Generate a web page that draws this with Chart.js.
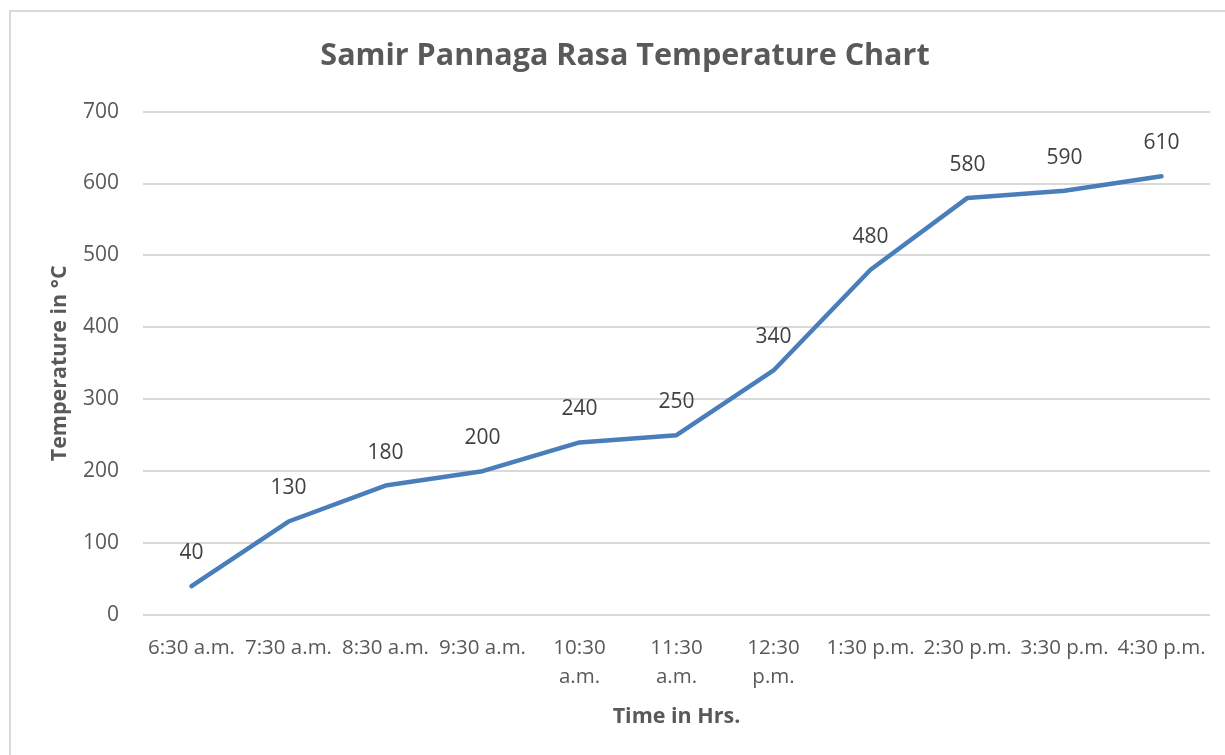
<!DOCTYPE html>
<html>
<head>
<meta charset="utf-8">
<script src="https://cdn.jsdelivr.net/npm/chart.js@4"></script>
<style>
  body { margin: 0; background: #fff; overflow: hidden; }
  #frame { position: absolute; left: 9px; top: 10px; width: 1300px; height: 800px;
           border-left: 2px solid #d9d9d9; border-top: 2px solid #d9d9d9; }
  #wrap { position: absolute; left: 0; top: 0; width: 1225px; height: 755px; }
</style>
</head>
<body>
<div id="frame"></div>
<div id="wrap"><canvas id="myChartLine"></canvas></div>
<script>
var timeLabels = ['6:30 a.m.', '7:30 a.m.', '8:30 a.m.', '9:30 a.m.', ['10:30', 'a.m.'],
  ['11:30', 'a.m.'], ['12:30', 'p.m.'], '1:30 p.m.', '2:30 p.m.', '3:30 p.m.', '4:30 p.m.'];
var temperature = [40, 130, 180, 200, 240, 250, 340, 480, 580, 590, 610];

var textColor = '#595959';
var fontName = '"Open Sans", sans-serif';

// value labels above each point
var pointLabels = {
  id: 'pointLabels',
  afterDatasetsDraw: function(chart) {
    var ctx = chart.ctx;
    var meta = chart.getDatasetMeta(0);
    ctx.save();
    ctx.fillStyle = '#404040';
    ctx.font = '21px ' + fontName;
    ctx.textAlign = 'center';
    ctx.textBaseline = 'middle';
    meta.data.forEach(function(pt, i) {
      ctx.fillText(temperature[i], pt.x, pt.y - 33);
    });
    ctx.restore();
  }
};

function chartPrint(targetId) {
  var ctx = document.getElementById(targetId);
  new Chart(ctx, {
    type: 'line',
    data: {
      labels: timeLabels,
      datasets: [{
        label: 'Temperature',
        data: temperature,
        borderColor: '#4a7ebb',
        borderWidth: 4.5,
        pointRadius: 0,
        tension: 0,
        borderCapStyle: 'round',
        borderJoinStyle: 'round'
      }]
    },
    options: {
      responsive: true,
      maintainAspectRatio: false,
      animation: false,
      layout: { padding: { left: 40, right: 15, top: 0, bottom: 0 } },
      plugins: {
        legend: { display: false },
        tooltip: { enabled: false },
        title: {
          display: true,
          text: 'Samir Pannaga Rasa Temperature Chart',
          color: textColor,
          font: { family: fontName, size: 30.5, weight: 'bold' },
          padding: { top: 38, bottom: 37 }
        }
      },
      scales: {
        x: {
          offset: true,
          grid: { display: false },
          border: { display: false },
          ticks: {
            color: textColor,
            font: { family: fontName, size: 20.5, lineHeight: 1.45 },
            maxRotation: 0,
            autoSkip: false,
            padding: 10
          },
          title: {
            display: true,
            text: 'Time in Hrs.',
            color: textColor,
            font: { family: fontName, size: 21.5, weight: 'bold' },
            padding: { top: 0, bottom: 25 }
          },
          afterFit: function(scale) { scale.height = 140; }
        },
        y: {
          min: 0,
          max: 700,
          ticks: {
            stepSize: 100,
            color: textColor,
            font: { family: fontName, size: 21 },
            padding: 24
          },
          grid: { color: '#d9d9d9', lineWidth: 2, drawTicks: false },
          border: { display: false },
          title: {
            display: true,
            text: 'Temperature in °C',
            color: textColor,
            font: { family: fontName, size: 21.5, weight: 'bold' },
            padding: { top: 7, bottom: 0 }
          },
          afterFit: function(scale) { scale.width = 103; }
        }
      }
    },
    plugins: [pointLabels]
  });
}

chartPrint('myChartLine');
</script>
</body>
</html>
